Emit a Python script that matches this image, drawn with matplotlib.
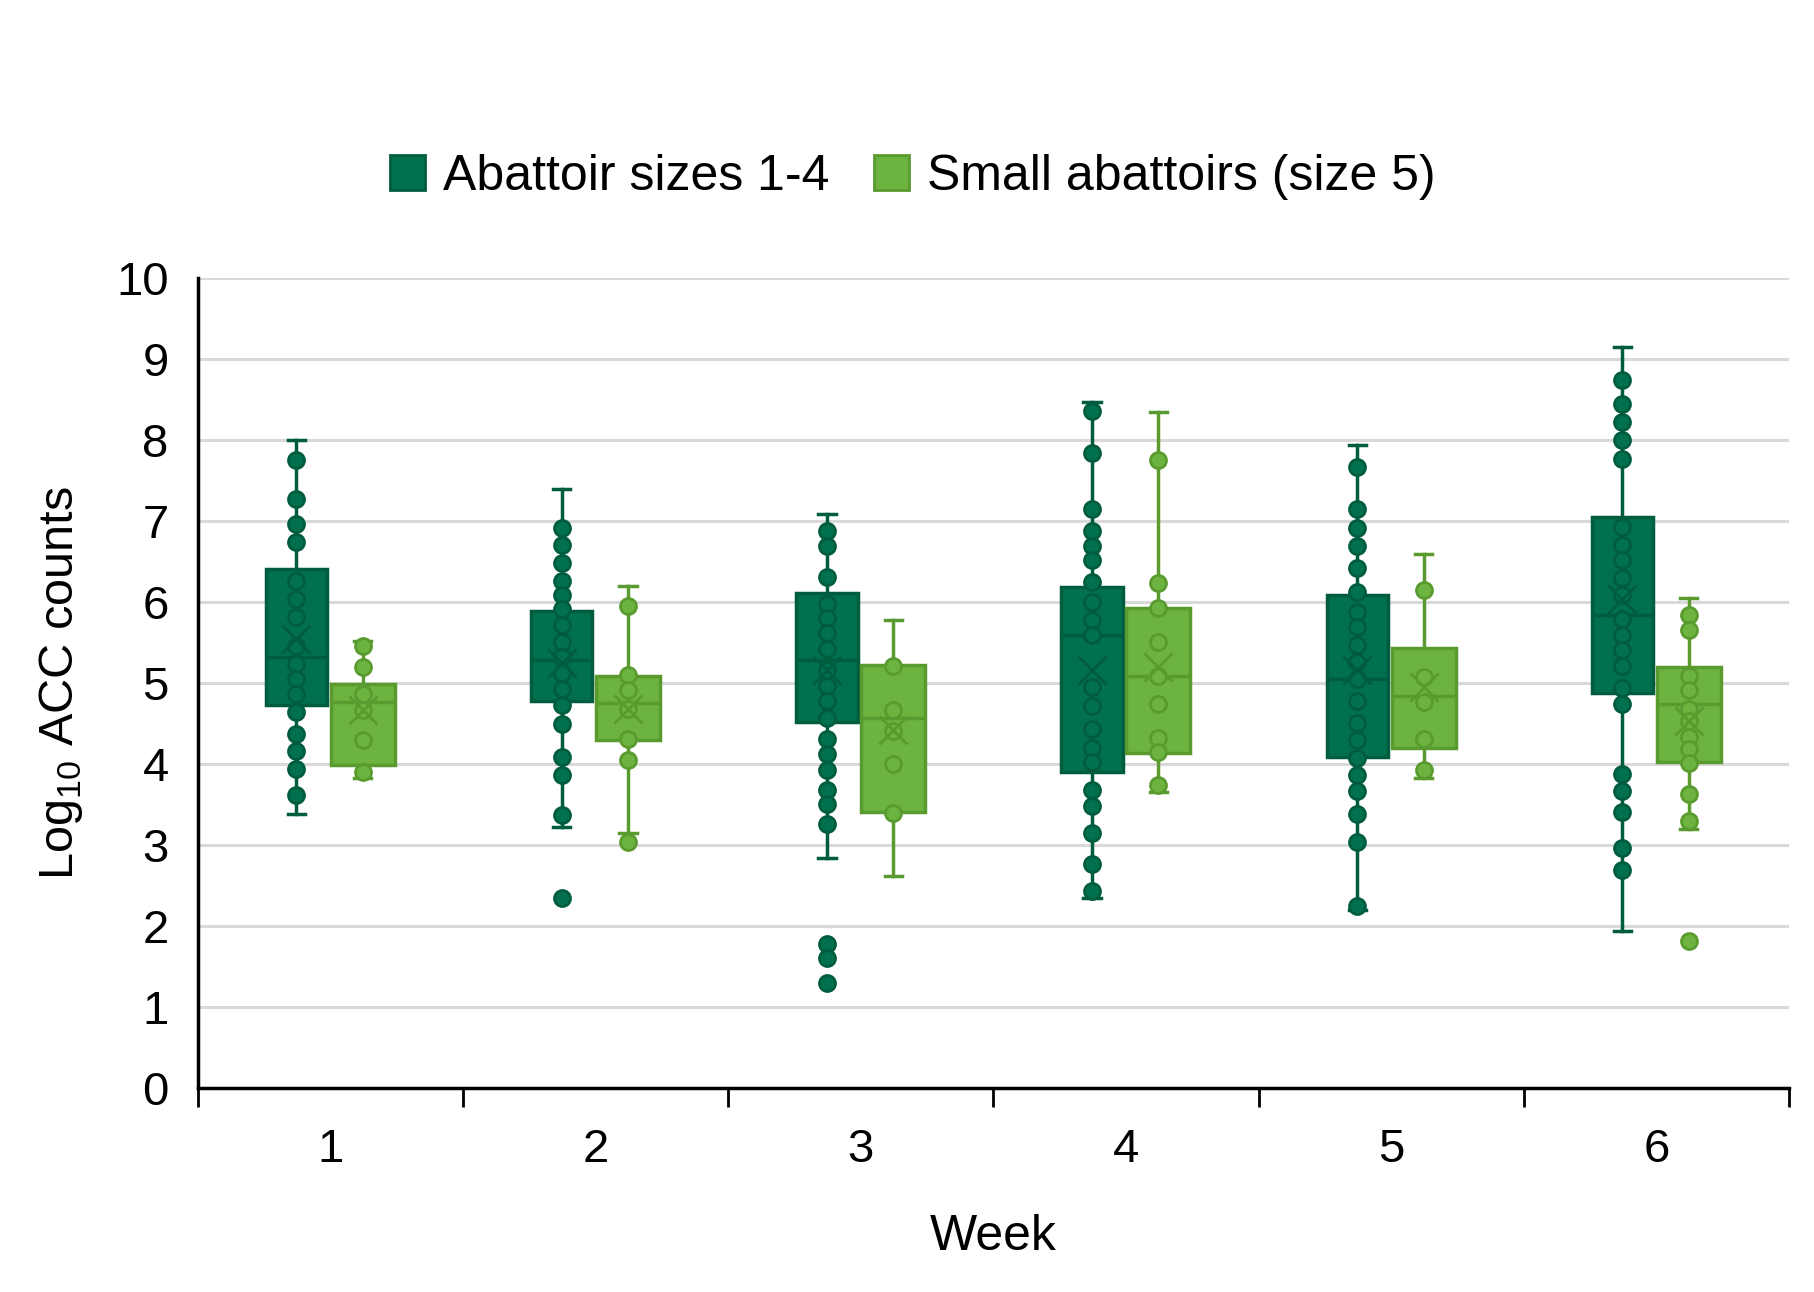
import matplotlib
matplotlib.use("Agg")
import matplotlib.pyplot as plt
from matplotlib.patches import Patch
from matplotlib.ticker import FixedLocator, NullFormatter

plt.rcParams['font.family'] = ['Liberation Sans', 'DejaVu Sans']

weeks = [1, 2, 3, 4, 5, 6]
series_names = ["Abattoir sizes 1-4", "Small abattoirs (size 5)"]

# Abattoir sizes 1-4 : box statistics per week
large_whislo = [3.38, 3.22, 2.84, 2.34, 2.20, 1.94]
large_q1     = [4.73, 4.78, 4.52, 3.90, 4.08, 4.87]
large_med    = [5.32, 5.28, 5.28, 5.59, 5.05, 5.84]
large_q3     = [6.41, 5.89, 6.11, 6.18, 6.09, 7.05]
large_whishi = [8.00, 7.39, 7.08, 8.47, 7.93, 9.14]
large_mean   = [5.54, 5.25, 5.16, 5.16, 5.16, 6.03]

# Small abattoirs (size 5) : box statistics per week
small_whislo = [3.83, 3.15, 2.61, 3.65, 3.83, 3.20]
small_q1     = [3.99, 4.30, 3.41, 4.13, 4.20, 4.02]
small_med    = [4.76, 4.75, 4.56, 5.08, 4.84, 4.74]
small_q3     = [4.99, 5.08, 5.22, 5.92, 5.43, 5.19]
small_whishi = [5.52, 6.19, 5.77, 8.34, 6.59, 6.05]
small_mean   = [4.66, 4.68, 4.42, 5.19, 4.95, 4.53]

# Individual data points per week
large_w1 = [7.75, 7.27, 6.96, 6.74, 6.26, 6.04, 5.81, 5.46, 5.23, 5.05, 4.86, 4.64, 4.37, 4.16, 3.94, 3.61]
large_w2 = [6.91, 6.70, 6.48, 6.26, 6.09, 5.91, 5.71, 5.51, 5.32, 5.12, 4.92, 4.73, 4.49, 4.09, 3.86, 3.37, 2.34]
large_w3 = [6.88, 6.69, 6.31, 5.97, 5.80, 5.61, 5.42, 5.16, 4.96, 4.77, 4.57, 4.31, 4.12, 3.93, 3.68, 3.51, 3.26, 1.77, 1.60, 1.30]
large_w4 = [8.36, 7.84, 7.15, 6.87, 6.69, 6.51, 6.25, 6.00, 5.78, 5.59, 4.95, 4.71, 4.43, 4.19, 4.02, 3.68, 3.48, 3.14, 2.76, 2.43]
large_w5 = [7.67, 7.15, 6.91, 6.69, 6.42, 6.12, 5.88, 5.69, 5.47, 5.26, 5.05, 4.78, 4.50, 4.29, 4.07, 3.86, 3.67, 3.38, 3.04, 2.24]
large_w6 = [8.74, 8.44, 8.22, 8.00, 7.76, 6.92, 6.70, 6.51, 6.29, 6.08, 5.79, 5.59, 5.40, 5.21, 4.93, 4.74, 3.87, 3.67, 3.41, 2.96, 2.69]

small_w1 = [5.46, 5.19, 4.86, 4.66, 4.30, 3.90]
small_w2 = [5.95, 5.10, 4.91, 4.68, 4.31, 4.05, 3.04]
small_w3 = [5.21, 4.67, 4.40, 4.00, 3.39]
small_w4 = [7.75, 6.23, 5.92, 5.50, 5.09, 4.74, 4.32, 4.14, 3.74]
small_w5 = [6.14, 5.07, 4.76, 4.31, 3.92]
small_w6 = [5.84, 5.65, 5.08, 4.91, 4.68, 4.53, 4.33, 4.18, 4.01, 3.63, 3.29, 1.81]

large_points = [large_w1, large_w2, large_w3, large_w4, large_w5, large_w6]
small_points = [small_w1, small_w2, small_w3, small_w4, small_w5, small_w6]

dark_fill, dark_edge = "#00704F", "#005C3E"
light_fill, light_edge = "#6DB33F", "#5A9B2F"

fig = plt.figure(figsize=(18.15, 12.92), dpi=100)
ax = fig.add_axes([0.109, 0.158, 0.8767, 0.627])

def draw_series(whislo, q1, med, q3, whishi, mean, points, offset, width, fill, edge):
    stats = []
    for i in range(len(weeks)):
        stats.append(dict(whislo=whislo[i], q1=q1[i], med=med[i], q3=q3[i],
                          whishi=whishi[i], mean=mean[i], fliers=[]))
    pos = [w + offset for w in weeks]
    ax.bxp(stats, positions=pos, widths=width, patch_artist=True,
           showmeans=False, showfliers=False, manage_ticks=False,
           boxprops=dict(facecolor=fill, edgecolor=edge, linewidth=2.5),
           medianprops=dict(color=edge, linewidth=2.5),
           whiskerprops=dict(color=edge, linewidth=2.5),
           capprops=dict(color=edge, linewidth=2.5),
           capwidths=0.065, zorder=2)
    for p, pts in zip(pos, points):
        ax.plot([p] * len(pts), pts, linestyle='none', marker='o', markersize=11.5,
                markerfacecolor=fill, markeredgecolor=edge, markeredgewidth=2, zorder=3)
    ax.plot(pos, mean, linestyle='none', marker='x', markersize=20,
            markeredgecolor=edge, markeredgewidth=2, zorder=4)

draw_series(large_whislo, large_q1, large_med, large_q3, large_whishi, large_mean,
            large_points, -0.128, 0.232, dark_fill, dark_edge)
draw_series(small_whislo, small_q1, small_med, small_q3, small_whishi, small_mean,
            small_points, 0.122, 0.242, light_fill, light_edge)

ax.set_xlim(0.5, 6.5)
ax.set_ylim(0, 10)
ax.set_yticks(range(0, 11))
ax.set_xticks(weeks)
ax.set_xticklabels([str(w) for w in weeks])
ax.xaxis.set_minor_locator(FixedLocator([0.5 + i for i in range(7)]))
ax.xaxis.set_minor_formatter(NullFormatter())
ax.tick_params(axis='x', which='major', length=0, pad=29, labelsize=34)
ax.tick_params(axis='x', which='minor', length=14, width=2, direction='out', color='black')
ax.tick_params(axis='y', which='major', length=0, pad=21, labelsize=34)

ax.grid(axis='y', color='#D9D9D9', linewidth=2.2, zorder=0)
ax.set_axisbelow(True)
for s in ['top', 'right']:
    ax.spines[s].set_visible(False)
for s in ['left', 'bottom']:
    ax.spines[s].set_linewidth(2.5)
    ax.spines[s].set_color('black')

ax.set_xlabel("Week", fontsize=36, labelpad=30)
ax.set_ylabel(r"Log$_{\mathregular{10}}$ ACC counts", fontsize=35, labelpad=22)

handles = [Patch(facecolor=dark_fill, edgecolor=dark_edge, linewidth=2),
           Patch(facecolor=light_fill, edgecolor=light_edge, linewidth=2)]
fig.legend(handles, series_names, loc='center', bbox_to_anchor=(0.503, 0.863),
           ncol=2, frameon=False, fontsize=36, handlelength=0.7, handleheight=0.7,
           handletextpad=0.35, columnspacing=0.9)

fig.savefig("out.png", dpi=100)
